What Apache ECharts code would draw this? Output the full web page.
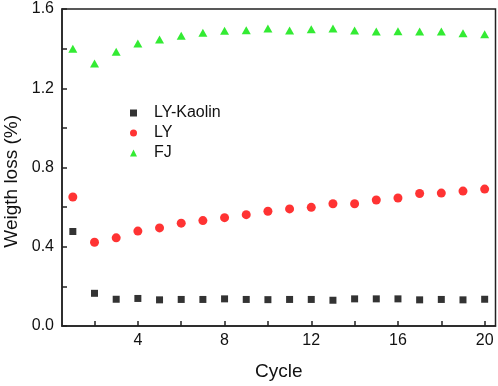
<!DOCTYPE html>
<html><head><meta charset="utf-8">
<script src="https://cdn.jsdelivr.net/npm/echarts@6/dist/echarts.min.js"></script>
<style>html,body{margin:0;padding:0;background:#fff}#c{width:498px;height:386px}</style>
</head><body><div id="c"></div>
<script>
const cycles = [1,2,3,4,5,6,7,8,9,10,11,12,13,14,15,16,17,18,19,20];
const lyKaolin = [0.477,0.165,0.135,0.139,0.132,0.134,0.134,0.137,0.134,0.133,0.134,0.134,0.130,0.137,0.137,0.137,0.132,0.134,0.132,0.135];
const ly = [0.651,0.423,0.445,0.479,0.495,0.519,0.532,0.547,0.562,0.579,0.591,0.599,0.617,0.617,0.636,0.646,0.669,0.671,0.681,0.691];
const fj = [1.399,1.325,1.384,1.426,1.446,1.465,1.480,1.490,1.493,1.501,1.491,1.498,1.501,1.491,1.486,1.488,1.486,1.486,1.478,1.473];
const xTicks = [2,4,6,8,10,12,14,16,18,20];
const xLabels = [4,8,12,16,20];
const yTicks = [0,0.2,0.4,0.6,0.8,1.0,1.2,1.4,1.6];
const yLabels = [0,0.4,0.8,1.2,1.6];
const seriesNames = ['LY-Kaolin','LY','FJ'];

const font = '"Liberation Sans", Arial, sans-serif';
const pairs = arr => cycles.map((c,i)=>[c,arr[i]]);
const chart = echarts.init(document.getElementById('c'));
chart.setOption({
  animation:false,
  textStyle:{fontFamily:font},
  grid:{left:62,top:9,right:2.5,bottom:58.4,show:true,borderColor:'#222',borderWidth:1.5,backgroundColor:'transparent'},
  legend:{
    orient:'vertical',left:125,top:100,itemWidth:7,itemHeight:7,itemGap:4,
    data:[{name:seriesNames[0],icon:'rect'},{name:seriesNames[1],icon:'circle'},{name:seriesNames[2],icon:'triangle'}],
    textStyle:{fontSize:16,color:'#111',fontFamily:font,padding:[0,0,0,12]}
  },
  xAxis:{type:'value',min:0.5,max:20.5,
    name:'Cycle',nameLocation:'middle',nameGap:36,nameTextStyle:{fontSize:19,color:'#111',fontFamily:font},
    axisLine:{lineStyle:{color:'#222',width:1.5}},
    axisTick:{inside:true,length:5,customValues:xTicks,lineStyle:{color:'#222',width:1.5}},
    axisLabel:{customValues:xLabels,fontSize:16,color:'#111',margin:7,fontFamily:font},
    splitLine:{show:false}},
  yAxis:{type:'value',min:0,max:1.6,
    axisLine:{show:true,lineStyle:{color:'#222',width:1.5}},
    axisTick:{show:true,inside:true,length:5,customValues:yTicks,lineStyle:{color:'#222',width:1.5}},
    axisLabel:{customValues:yLabels,fontSize:16,color:'#111',margin:8,fontFamily:font,formatter:v=>v.toFixed(1)},
    splitLine:{show:false}},
  graphic:[{type:'text',left:2,top:115,rotation:Math.PI/2,style:{text:'Weigth loss (%)',font:'19px '+font,fill:'#111'}}],
  series:[
    {name:seriesNames[0],type:'scatter',symbol:'rect',symbolSize:7,itemStyle:{color:'#000'},data:pairs(lyKaolin)},
    {name:seriesNames[1],type:'scatter',symbol:'circle',symbolSize:9,itemStyle:{color:'#ff0000'},data:pairs(ly)},
    {name:seriesNames[2],type:'scatter',symbol:'triangle',symbolSize:[9,8],itemStyle:{color:'#00e600'},data:pairs(fj)}
  ]
});
</script></body></html>
